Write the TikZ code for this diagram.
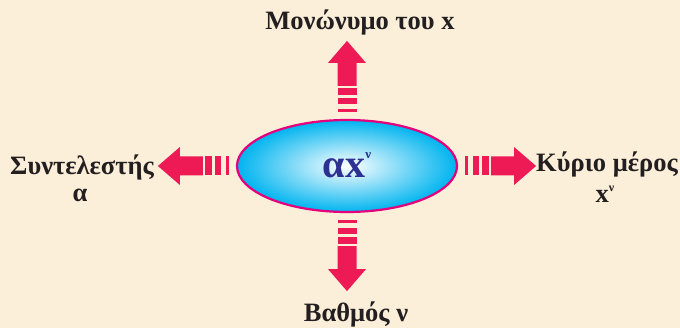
\documentclass[tikz,border=0pt]{standalone}
\usepackage{fontspec}
\setmainfont{Liberation Serif}
\usetikzlibrary{shapes.geometric}
\definecolor{paper}{HTML}{FBEFD9}
\definecolor{ink}{HTML}{231F20}
\definecolor{navy}{HTML}{2E3092}
\definecolor{rim}{HTML}{E4007C}
\definecolor{skyc}{HTML}{00B4EF}
\definecolor{arrowred}{HTML}{EE1A55}

\begin{document}
\begin{tikzpicture}[x=1pt,y=-1pt,font=\bfseries\fontsize{26.5}{30}\selectfont,
  lbl/.style={anchor=base,text=ink,inner sep=0pt}]
% one striped arrow, drawn along local x from the ellipse rim
\newcommand{\ptr}{%
  \fill[arrowred] (7,-9.5) rectangle (10,9.5);             % thin stripe
  \fill[arrowred] (15,-9.5) rectangle (21,9.5);            % middle stripe
  \fill[arrowred] (24,-9.5) rectangle (31,9.5);            % wide stripe
  \fill[arrowred] (33,-9.5) -- (56,-9.5) -- (56,-19) -- (78,0)
    -- (56,19) -- (56,9.5) -- (33,9.5) -- cycle;           % shaft and head
}
\fill[paper] (0,0) rectangle (680,328);
\useasboundingbox (0,0) rectangle (680,328);
% --- centre ---
\node[ellipse,draw=rim,line width=2.2pt,minimum width=220pt,minimum height=92pt,
  inner color=white,outer color=skyc] (blob) at (347,166) {};
\node[lbl,text=navy,font=\bfseries\fontsize{40}{42}\selectfont] (term) at (347,178)
  {αx\raisebox{19pt}{\fontsize{13}{13}\selectfont ν}};
% --- arrows ---
\begin{scope}[shift={(blob.north)},rotate=90] \ptr \end{scope}
\begin{scope}[shift={(blob.south)},rotate=-90] \ptr \end{scope}
\begin{scope}[shift={(blob.west)},rotate=180] \ptr \end{scope}
\begin{scope}[shift={(blob.east)}] \ptr \end{scope}
% --- labels ---
\node[lbl] (mono) at (360,30) {Μονώνυμο του x};
\node[lbl] (coef) at (82,175) {Συντελεστής};
\node[lbl] (coefsym) at (80,202) {α};
\node[lbl] (main) at (607,172) {Κύριο μέρος};
\node[lbl] (mainsym) at (605,203) {x\raisebox{11pt}{\fontsize{12}{12}\selectfont ν}};
\node[lbl] (deg) at (356,322) {Βαθμός ν};
\end{tikzpicture}
\end{document}
